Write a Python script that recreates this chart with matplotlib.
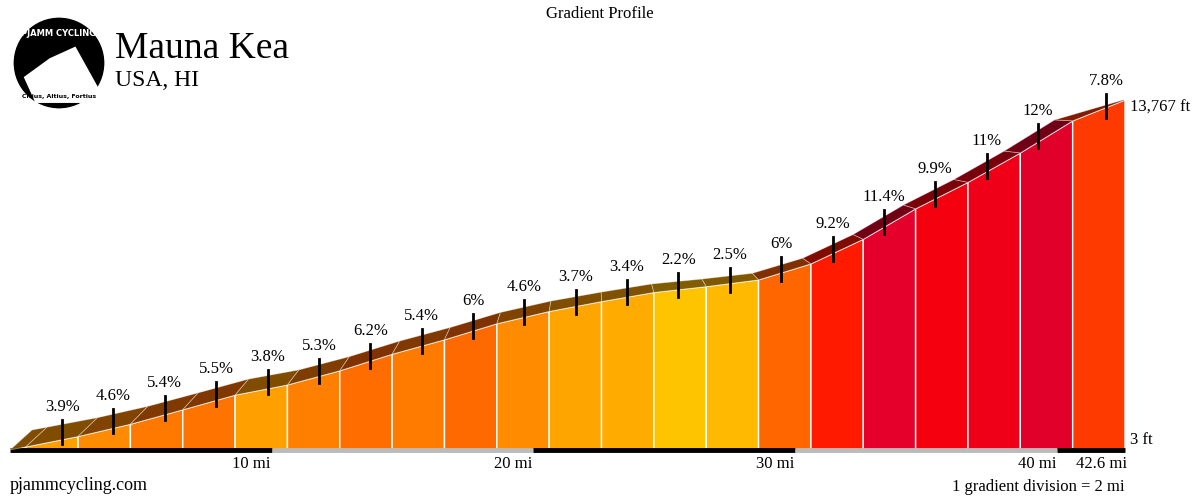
import matplotlib
matplotlib.use("Agg")
import matplotlib.pyplot as plt
from matplotlib.patches import Polygon, Circle
import numpy as np

plt.rcParams['font.family'] = ['Liberation Serif', 'DejaVu Serif']

# ---- data ----
boundaries_mi = [0, 0.6, 2.6, 4.6, 6.6, 8.6, 10.6, 12.6, 14.6, 16.6, 18.6, 20.6, 22.6,
                 24.6, 26.6, 28.6, 30.6, 32.6, 34.6, 36.6, 38.6, 40.6, 42.6]
gradients = [3.9, 3.9, 4.6, 5.4, 5.5, 3.8, 5.3, 6.2, 5.4, 6.0, 4.6, 3.7, 3.4,
             2.2, 2.5, 6.0, 9.2, 11.4, 9.9, 11.0, 12.0, 7.8]
labels = [None, "3.9%", "4.6%", "5.4%", "5.5%", "3.8%", "5.3%", "6.2%", "5.4%", "6%", "4.6%",
          "3.7%", "3.4%", "2.2%", "2.5%", "6%", "9.2%", "11.4%", "9.9%", "11%", "12%", "7.8%"]
face_colors = ["#ffa000", "#ffa000", "#ff8c00", "#ff7800", "#ff7400", "#ffa000", "#ff8000",
               "#ff6c00", "#ff7b00", "#ff6a00", "#ff8c00", "#ffa500", "#ffab00", "#ffc400",
               "#ffba00", "#ff6600", "#ff1a00", "#e4002a", "#f5000f", "#f00018", "#e0002a",
               "#ff3a00"]
start_ft, end_ft = 3, 13767
xticks_mi = [10, 20, 30, 40]
xtick_labels = ["10 mi", "20 mi", "30 mi", "40 mi"]

gain = [g / 100 * 5280 * (boundaries_mi[i + 1] - boundaries_mi[i]) for i, g in enumerate(gradients)]
cum = np.concatenate([[0], np.cumsum(gain)])
elev = start_ft + cum / cum[-1] * (end_ft - start_ft)

fig = plt.figure(figsize=(12, 5), dpi=100)
ax = fig.add_axes([10 / 1200, 50 / 500, 1115 / 1200, 350 / 500])
ax.set_xlim(0, 42.6)
ax.set_ylim(start_ft, end_ft)
ax.axis('off')
fig.canvas.draw()
T = ax.transData
total = boundaries_mi[-1]

def off(x):
    if x >= total - 1e-9:
        return np.array([-2.0, 0.0])
    t = x / total
    return np.array([22 - 42 * t, 20 * (1 - t)])

def darker(c, f=0.5):
    r, g, b = matplotlib.colors.to_rgb(c)
    return (r * f, g * f * 0.95, b * f)

n = len(gradients)
for i in range(n):
    x0, x1 = boundaries_mi[i], boundaries_mi[i + 1]
    y0, y1 = elev[i], elev[i + 1]
    ax.add_patch(Polygon([(x0, start_ft), (x0, y0), (x1, y1), (x1, start_ft)],
                         closed=True, facecolor=face_colors[i], edgecolor='white', lw=1))
    p0 = T.transform((x0, y0)); p1 = T.transform((x1, y1))
    q0 = p0 + off(x0); q1 = p1 + off(x1)
    fig.add_artist(Polygon([p0, p1, q1, q0], closed=True, transform=None,
                           facecolor=darker(face_colors[i]), edgecolor=(1, 1, 1, 0.4), lw=0.6))
    if labels[i]:
        # tick at the middle of the band
        f0 = (p0 + q0) / 2; f1 = (p1 + q1) / 2
        pm = (f0 + f1) / 2
        if i == n - 1:
            pm = f0 + 0.7 * (f1 - f0)
        bottom = pm[1] - 12
        top = pm[1] + 12
        fig.add_artist(plt.Line2D([pm[0], pm[0]], [bottom, top], transform=None,
                                  color='black', lw=2))
        fig.text(pm[0] / 1200, (top + 5) / 500, labels[i], ha='center', va='bottom', fontsize=12)

edges = [0] + xticks_mi + [total]
for j in range(len(edges) - 1):
    ax.plot([edges[j], edges[j + 1]], [start_ft, start_ft],
            color='black' if j % 2 == 0 else '#bbbbbb', lw=3.5, solid_capstyle='butt',
            clip_on=False)
for xt, lab in zip(xticks_mi, xtick_labels):
    p = T.transform((xt, start_ft))
    fig.text((p[0] - 1) / 1200, 36 / 500, lab, ha='right', va='center', fontsize=12)
fig.text(1127 / 1200, 36 / 500, "42.6 mi", ha='right', va='center', fontsize=12)
fig.text(1130 / 1200, 392 / 500, "13,767 ft", ha='left', va='center', fontsize=12)
fig.text(1130 / 1200, 60 / 500, "3 ft", ha='left', va='center', fontsize=12)

fig.text(0.5, 486 / 500, "Gradient Profile", ha='center', va='center', fontsize=12)
fig.text(115 / 1200, 451 / 500, "Mauna Kea", ha='left', va='center', fontsize=27)
fig.text(115 / 1200, 419 / 500, "USA, HI", ha='left', va='center', fontsize=17)
fig.text(10 / 1200, 14 / 500, "pjammcycling.com", ha='left', va='center', fontsize=13)
fig.text(1125 / 1200, 13 / 500, "1 gradient division = 2 mi", ha='right', va='center', fontsize=12)

lax = fig.add_axes([12 / 1200, 390 / 500, 94 / 1200, 94 / 500])
lax.set_xlim(-1, 1); lax.set_ylim(-1, 1); lax.set_aspect('equal'); lax.axis('off')
lax.add_patch(Circle((0, 0), 0.98, facecolor='black', edgecolor='white'))
lax.add_patch(Polygon([(-0.75, -0.3), (-0.2, 0.1), (0.35, 0.35), (0.85, -0.55), (0.5, -0.85),
                       (-0.5, -0.85)], facecolor='white'))
lax.text(0, 0.62, "PJAMM CYCLING", color='white', ha='center', va='center', fontsize=6,
         family='DejaVu Sans', fontweight='bold')
lax.text(0, -0.72, "Citius, Altius, Fortius", color='black', ha='center', va='center',
         fontsize=4.5, family='DejaVu Sans', fontweight='bold')

fig.savefig("out.png", dpi=100)
